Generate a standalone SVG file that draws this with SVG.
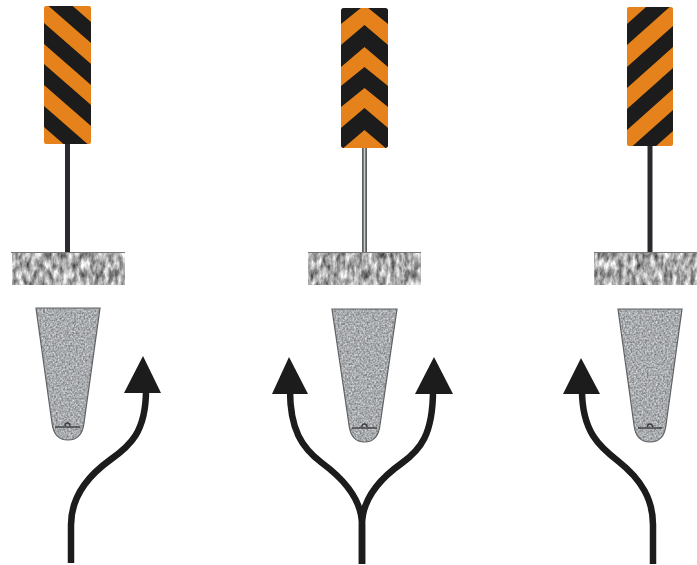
<svg xmlns="http://www.w3.org/2000/svg" width="697" height="565" viewBox="0 0 697 565">
<style>
.orange{fill:#e6821a}
.black{fill:#1a1a1a}
.post{stroke:#2b2c2d;stroke-width:5;fill:none}
.road{stroke:#1a1a1a;stroke-width:6.500;fill:none;stroke-linecap:butt;stroke-linejoin:round}
.head{fill:#1a1a1a}
.base{filter:url(#grainBase)}
.island{filter:url(#grainIsland)}
.edge{fill:none;stroke:#5f6264;stroke-width:1.200}
.mark{stroke:#3a3c3e;stroke-width:1.400;fill:none}
.soft{filter:url(#soft)}
</style>
<defs>
<filter id="grainBase" x="0" y="0" width="100%" height="100%" color-interpolation-filters="sRGB">
<feTurbulence type="fractalNoise" baseFrequency="0.22 0.1" numOctaves="3" seed="4"/>
<feColorMatrix values="1.100 0 0 0 0.120  1.100 0 0 0 0.120  1.100 0 0 0 0.120  0 0 0 0 1"/>
<feGaussianBlur stdDeviation="0.7"/>
<feComposite in2="SourceAlpha" operator="in"/>
</filter>
<filter id="grainIsland" x="0" y="0" width="100%" height="100%" color-interpolation-filters="sRGB">
<feTurbulence type="fractalNoise" baseFrequency="0.55" numOctaves="2" seed="9"/>
<feColorMatrix values="0.600 0 0 0 0.360  0.600 0 0 0 0.370  0.600 0 0 0 0.380  0 0 0 0 1"/>
<feGaussianBlur stdDeviation="0.4"/>
<feComposite in2="SourceAlpha" operator="in"/>
</filter>
<filter id="soft" x="-5%" y="-5%" width="110%" height="110%"><feGaussianBlur stdDeviation="0.5"/></filter>
<clipPath id="c1"><rect x="44" y="6" width="47" height="138" rx="2"/></clipPath>
<clipPath id="c2"><rect x="341" y="8" width="47" height="140" rx="3"/></clipPath>
<clipPath id="c3"><rect x="627" y="7" width="46" height="139" rx="2"/></clipPath>
</defs>

<g id="sign-left" class="soft">
<line class="post" x1="67.500" y1="142" x2="67.500" y2="254"/>
<rect class="orange" x="44" y="6" width="47" height="138" rx="2"/>
<g clip-path="url(#c1)">
<polygon class="black" points="44,-19 91,22 91,43 44,2"/>
<polygon class="black" points="44,23 91,64 91,85 44,44"/>
<polygon class="black" points="44,64 91,105 91,126 44,85"/>
<polygon class="black" points="44,106 91,147 91,168 44,127"/>
</g>
</g>

<g id="sign-centre" class="soft">
<line x1="364.500" y1="146" x2="364.500" y2="254" stroke="#5f6264" stroke-width="5"/>
<line x1="364.500" y1="146" x2="364.500" y2="254" stroke="#c9cbcc" stroke-width="1.500"/>
<rect class="orange" x="341" y="8" width="47" height="140" rx="3"/>
<g clip-path="url(#c2)">
<polygon class="black" points="341,3 364.500,-17 388,3 388,24 364.500,5 341,24"/>
<polygon class="black" points="341,45 364.500,25 388,45 388,67 364.500,47 341,67"/>
<polygon class="black" points="341,86 364.500,67 388,86 388,107 364.500,88 341,107"/>
<polygon class="black" points="341,128 364.500,108 388,128 388,150 364.500,130 341,150"/>
</g>
</g>

<g id="sign-right" class="soft">
<line class="post" x1="650" y1="144" x2="650" y2="254"/>
<rect class="orange" x="627" y="7" width="46" height="139" rx="2"/>
<g clip-path="url(#c3)">
<polygon class="black" points="627,24 673,-17 673,4 627,45"/>
<polygon class="black" points="627,67 673,26 673,47 627,88"/>
<polygon class="black" points="627,109 673,68 673,89 627,130"/>
<polygon class="black" points="627,151 673,110 673,131 627,172"/>
</g>
</g>

<g id="base-left"><rect class="base" x="12" y="252" width="113" height="33"/><line x1="11" y1="252.500" x2="125" y2="252.500" stroke="#77797a"/></g>
<g id="base-centre"><rect class="base" x="308" y="252" width="113" height="33"/><line x1="308" y1="252.500" x2="421" y2="252.500" stroke="#77797a"/></g>
<g id="base-right"><rect class="base" x="594" y="252" width="103" height="33"/><line x1="594" y1="252.500" x2="697" y2="252.500" stroke="#77797a"/></g>

<g id="island-left">
<path class="island" d="M36 308H100L84 423Q82 440 68 440Q54 440 52 423Z"/>
<path class="edge" d="M36 308H100L84 423Q82 440 68 440Q54 440 52 423Z"/>
<line class="mark" x1="55" y1="427" x2="80" y2="427"/>
<path class="mark" d="M65 426a2.500 3 0 1 1 5 0"/>
</g>
<g id="island-centre">
<path class="island" d="M332 309H397L380 425Q378 442 364.500 442Q351 442 349 425Z"/>
<path class="edge" d="M332 309H397L380 425Q378 442 364.500 442Q351 442 349 425Z"/>
<line class="mark" x1="352" y1="428" x2="377" y2="428"/>
<path class="mark" d="M362 427a2.500 3 0 1 1 5 0"/>
</g>
<g id="island-right">
<path class="island" d="M618 309H682L666 425Q664 442 650 442Q636 442 634 425Z"/>
<path class="edge" d="M618 309H682L666 425Q664 442 650 442Q636 442 634 425Z"/>
<line class="mark" x1="638" y1="428" x2="662" y2="428"/>
<path class="mark" d="M647.500 427a2.500 3 0 1 1 5 0"/>
</g>

<g id="connectors" class="soft">
<path class="road" d="M71 563V525C71 500 85 478 110 460C130 446 146 432 146 390"/>
<polygon class="head" points="143,356 161,393 124,393"/>
<path class="road" d="M362 564V525C362 500 345 480 322 463C302 448 290 430 290 390"/>
<path class="road" d="M362 564V525C362 500 378 480 402 463C420 450 433 435 433 390"/>
<polygon class="head" points="289,357 308,394 272,394"/>
<polygon class="head" points="434,357 453,394 415,394"/>
<path class="road" d="M653 564V525C653 500 642 480 618 461C600 447 582 432 582 390"/>
<polygon class="head" points="581,358 600,394 563,394"/>
</g>
</svg>
